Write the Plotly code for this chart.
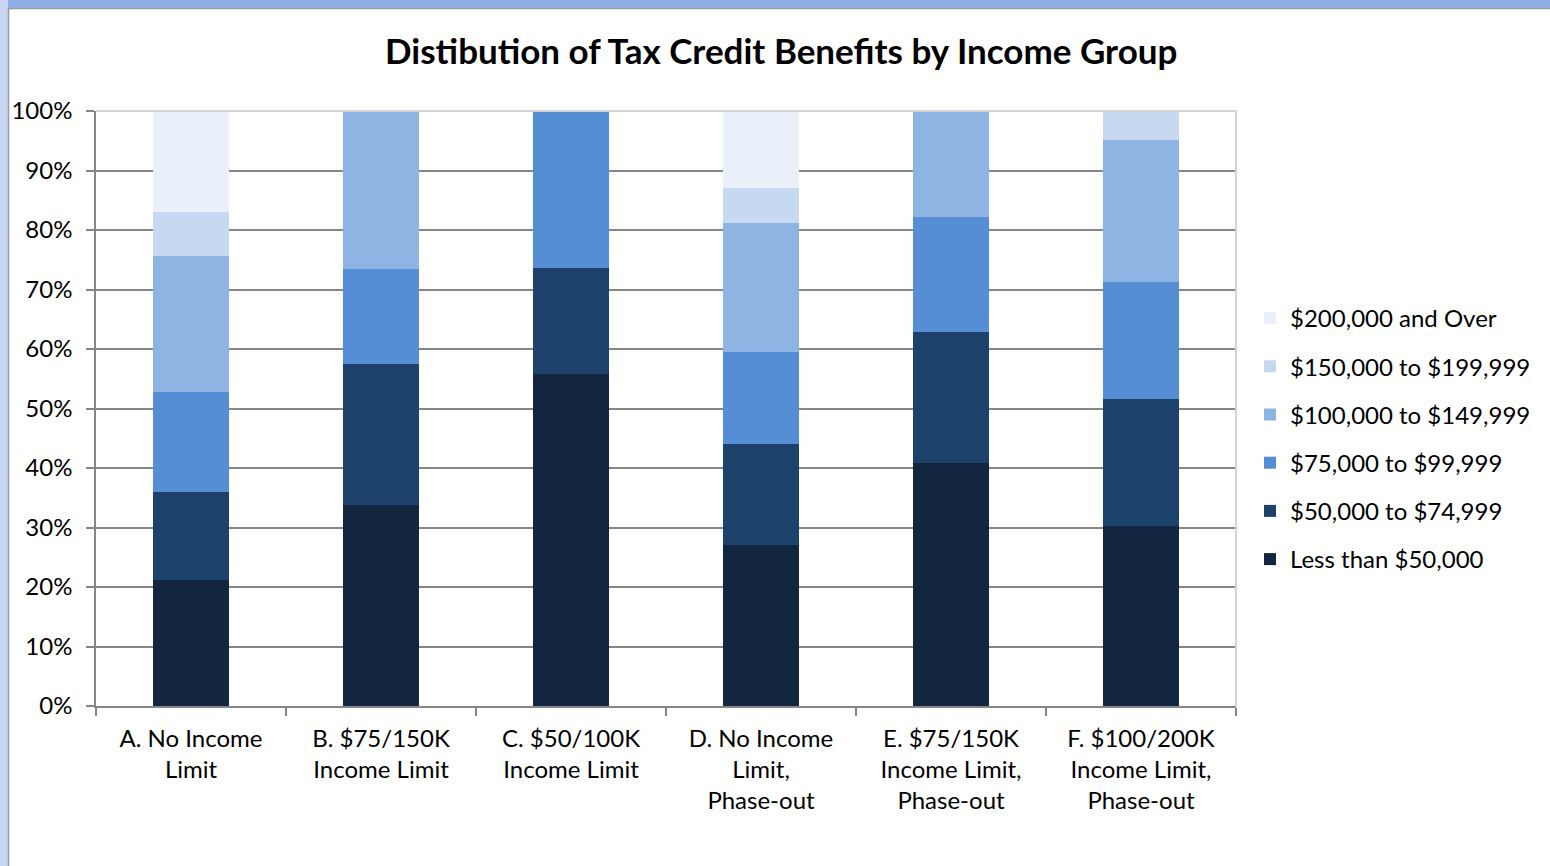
import plotly.graph_objects as go

categories = [
    "A. No Income<br>Limit",
    "B. $75/150K<br>Income Limit",
    "C. $50/100K<br>Income Limit",
    "D. No Income<br>Limit,<br>Phase-out",
    "E. $75/150K<br>Income Limit,<br>Phase-out",
    "F. $100/200K<br>Income Limit,<br>Phase-out",
]

less_50k = [21.2, 33.8, 55.8, 27.1, 40.8, 30.3]
k50_75 = [14.8, 23.7, 17.8, 16.9, 22.1, 21.3]
k75_100 = [16.8, 15.9, 26.4, 15.5, 19.3, 19.7]
k100_150 = [22.8, 26.6, 0.0, 21.7, 17.8, 23.8]
k150_200 = [7.4, 0.0, 0.0, 5.9, 0.0, 4.9]
k200_plus = [17.0, 0.0, 0.0, 12.9, 0.0, 0.0]

series_names = [
    "Less than $50,000",
    "$50,000 to $74,999",
    "$75,000 to $99,999",
    "$100,000 to $149,999",
    "$150,000 to $199,999",
    "$200,000 and Over",
]
series_values = [less_50k, k50_75, k75_100, k100_150, k150_200, k200_plus]
colors = ["#12263F", "#1C416B", "#558ED5", "#8EB4E3", "#C6D9F1", "#E9F0FA"]

FONT = "Lato, Carlito, 'Open Sans', sans-serif"

fig = go.Figure()
for i, (name, vals, col) in enumerate(zip(series_names, series_values, colors)):
    fig.add_trace(go.Bar(
        x=categories, y=[v / 100 for v in vals], name=name,
        marker=dict(color=col, line=dict(width=0)),
        legendgroup=name, legendrank=1000 - i,
        width=0.4,
    ))

L, R, T, B = 96, 314, 111, 160
W, H = 1550, 866
pw, ph = W - L - R, H - T - B

def px_x(p):
    return (p - L) / pw

def px_y(p):
    return (H - B - p) / ph

shapes = [
    dict(type="rect", xref="paper", yref="paper", x0=px_x(0), x1=px_x(W), y0=px_y(8), y1=px_y(0),
         fillcolor="#8DAEE6", line=dict(width=0), layer="below"),
    dict(type="rect", xref="paper", yref="paper", x0=px_x(0), x1=px_x(8), y0=px_y(H), y1=px_y(0),
         fillcolor="#C5D5F2", line=dict(width=0), layer="below"),
    dict(type="line", xref="paper", yref="paper", x0=px_x(8), x1=px_x(W), y0=px_y(8.5), y1=px_y(8.5),
         line=dict(color="#9A9A9A", width=1.5)),
    dict(type="line", xref="paper", yref="paper", x0=px_x(8.5), x1=px_x(8.5), y0=px_y(H), y1=px_y(8),
         line=dict(color="#9A9A9A", width=1.5)),
    dict(type="line", xref="paper", yref="paper", x0=0, x1=1, y0=1, y1=1,
         line=dict(color="#D4D4D4", width=2)),
    dict(type="line", xref="paper", yref="paper", x0=1, x1=1, y0=0, y1=1,
         line=dict(color="#D4D4D4", width=2)),
]

fig.update_layout(
    width=W, height=H,
    margin=dict(l=L, r=R, t=T, b=B),
    paper_bgcolor="white", plot_bgcolor="white",
    barmode="stack",
    font=dict(family=FONT, size=24, color="black"),
    title=dict(text="<b>Distibution of Tax Credit Benefits by Income Group</b>",
               x=0.504, xanchor="center", y=1 - 52 / H, yanchor="middle",
               font=dict(family=FONT, size=35, color="black")),
    xaxis=dict(
        showline=True, linecolor="#868686", linewidth=1.5,
        ticks="outside", ticklen=8, tickcolor="#868686", tickwidth=1.5,
        tickson="boundaries", showgrid=False,
        ticklabelstandoff=10,
        tickfont=dict(family=FONT, size=24, color="black"),
    ),
    yaxis=dict(
        range=[0, 1], tickformat=".0%", dtick=0.1,
        showline=True, linecolor="#868686", linewidth=1.5,
        ticks="outside", ticklen=8, tickcolor="#868686", tickwidth=1.5,
        showgrid=True, gridcolor="#868686", gridwidth=1.5,
        zeroline=False,
        ticklabelstandoff=9,
        tickfont=dict(family=FONT, size=24, color="black"),
    ),
    legend=dict(
        x=px_x(1250), xanchor="left", y=px_y(296), yanchor="top",
        traceorder="grouped", tracegroupgap=14,
        font=dict(family=FONT, size=24, color="black"),
        itemwidth=30, bgcolor="rgba(0,0,0,0)",
    ),
    shapes=shapes,
)

fig.write_html("out.html")
